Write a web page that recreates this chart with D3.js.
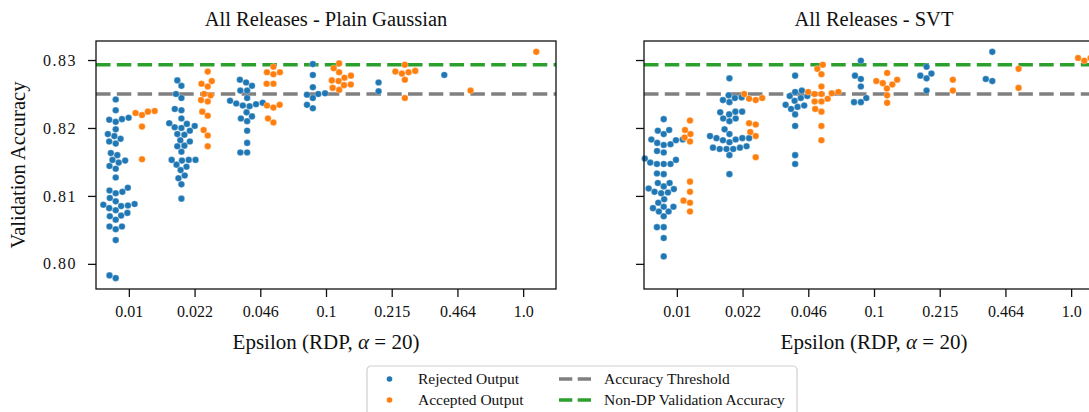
<!DOCTYPE html>
<html>
<head>
  <meta charset="utf-8"/>
  <title>All Releases swarm plots</title>
  <script src="https://d3js.org/d3.v7.min.js"></script>
  <style>
    html, body { margin: 0; padding: 0; background: #fff; overflow: hidden; }
    svg { display: block; font-family: "Liberation Serif", "Times New Roman", serif; }
    .tick text { fill: #111; font-family: "Liberation Serif", "Times New Roman", serif; }
  </style>
</head>
<body>
<svg id="chart" width="1089" height="412"></svg>
<script>
// epsilon categories (x axis)
const epsLabels = ["0.01", "0.022", "0.046", "0.1", "0.215", "0.464", "1.0"];
const yTicks = [0.80, 0.81, 0.82, 0.83];
const accuracyThreshold = 0.825;
const nonDpAccuracy = 0.8293;

// Plain Gaussian, one array per epsilon
const gaussRejected = [
  [0.8242,0.8226,0.8215,0.8212,0.8209,0.8213,0.8198,0.8191,0.8188,0.8184,0.8180,0.8177,0.8163,0.8160,0.8153,0.8152,0.8149,0.8144,0.8140,0.8127,0.8112,0.8108,0.8106,0.8104,0.8097,0.8092,0.8088,0.8086,0.8085,0.8087,0.8082,0.8079,0.8075,0.8071,0.8070,0.8065,0.8055,0.8055,0.8051,0.8035,0.7983,0.7979],
  [0.8270,0.8262,0.8250,0.8244,0.8228,0.8226,0.8214,0.8207,0.8206,0.8201,0.8200,0.8203,0.8196,0.8191,0.8190,0.8182,0.8180,0.8173,0.8174,0.8165,0.8153,0.8152,0.8153,0.8153,0.8146,0.8143,0.8138,0.8130,0.8126,0.8117,0.8096],
  [0.8271,0.8267,0.8262,0.8255,0.8255,0.8244,0.8240,0.8236,0.8233,0.8232,0.8235,0.8237,0.8223,0.8217,0.8214,0.8210,0.8196,0.8178,0.8164,0.8164],
  [0.8294,0.8278,0.8260,0.8251,0.8250,0.8249,0.8244,0.8234,0.8229],
  [0.8267,0.8254],
  [0.8278],
  []
];
const gaussAccepted = [
  [0.8222,0.8219,0.8224,0.8225,0.8202,0.8154],
  [0.8283,0.8269,0.8265,0.8261,0.8250,0.8248,0.8241,0.8239,0.8224,0.8218,0.8197,0.8189,0.8173],
  [0.8290,0.8282,0.8279,0.8282,0.8265,0.8265,0.8233,0.8230,0.8234,0.8214,0.8208],
  [0.8295,0.8288,0.8282,0.8277,0.8274,0.8270,0.8269,0.8264,0.8263,0.8259,0.8256],
  [0.8293,0.8283,0.8280,0.8282,0.8284,0.8271,0.8244],
  [0.8255],
  [0.8312]
];

// SVT
const svtRejected = [
  [0.8213,0.8196,0.8197,0.8191,0.8183,0.8178,0.8175,0.8176,0.8182,0.8183,0.8166,0.8164,0.8153,0.8147,0.8147,0.8147,0.8149,0.8155,0.8133,0.8132,0.8119,0.8114,0.8119,0.8111,0.8106,0.8104,0.8105,0.8110,0.8095,0.8090,0.8084,0.8084,0.8077,0.8070,0.8077,0.8082,0.8054,0.8054,0.8038,0.8011],
  [0.8273,0.8248,0.8245,0.8241,0.8238,0.8244,0.8223,0.8224,0.8224,0.8220,0.8214,0.8210,0.8214,0.8198,0.8191,0.8185,0.8185,0.8183,0.8179,0.8182,0.8185,0.8188,0.8171,0.8169,0.8169,0.8169,0.8171,0.8173,0.8160,0.8132],
  [0.8277,0.8255,0.8253,0.8247,0.8244,0.8247,0.8240,0.8234,0.8231,0.8228,0.8233,0.8220,0.8203,0.8160,0.8147],
  [0.8299,0.8277,0.8272,0.8261,0.8244,0.8238,0.8238],
  [0.8290,0.8280,0.8277,0.8273,0.8255],
  [0.8312,0.8272,0.8269],
  []
];
const svtAccepted = [
  [0.8211,0.8197,0.8191,0.8186,0.8180,0.8121,0.8106,0.8093,0.8090,0.8077],
  [0.8250,0.8243,0.8241,0.8244,0.8207,0.8205,0.8194,0.8188,0.8157],
  [0.8293,0.8287,0.8279,0.8261,0.8253,0.8250,0.8250,0.8251,0.8253,0.8243,0.8239,0.8239,0.8228,0.8224,0.8203,0.8182],
  [0.8281,0.8271,0.8264,0.8258,0.8266,0.8269,0.8248,0.8237],
  [0.8271,0.8255],
  [0.8287,0.8259],
  [0.8303,0.8299,0.8303]
];

const blue = "#1f77b4", orange = "#ff7f0e", gray = "#808080", green = "#2ca02c";
const serif = '"Liberation Serif", "Times New Roman", serif';

const svg = d3.select("#chart");
const plotTop = 41, plotBottom = 289, panelW = 460;
const y = d3.scaleLinear().domain([0.7963, 0.8328]).range([plotBottom, plotTop]);

const dotR = 3.3, spacing = 6.8;

// seaborn-like swarm: lowest value first, each point goes to the free spot nearest the midline
function swarm(values, cx) {
  const pts = values.map(v => ({ v, y: y(v) })).sort((a, b) => a.v - b.v);
  const placed = [];
  pts.forEach(p => {
    const nb = placed.filter(q => Math.abs(q.y - p.y) < spacing);
    const cands = [cx];
    nb.forEach(q => {
      const dx = Math.sqrt(spacing * spacing - (q.y - p.y) ** 2);
      cands.push(q.x - dx, q.x + dx);
    });
    const order = cands.map((x, i) => ({ x, i }))
      .sort((a, b) => (Math.abs(a.x - cx) - Math.abs(b.x - cx)) || (a.i - b.i));
    for (const c of order) {
      if (nb.every(q => (q.x - c.x) ** 2 + (q.y - p.y) ** 2 >= spacing * spacing - 1e-6)) {
        p.x = c.x;
        break;
      }
    }
    placed.push(p);
  });
  return placed;
}

function drawPanel(left, title, rejected, accepted, showYLabels) {
  const x = d3.scalePoint().domain(epsLabels).range([left, left + panelW]).padding(0.5);
  const dodge = x.step() * 0.2;
  const g = svg.append("g");

  // title
  g.append("text")
    .attr("x", left + panelW / 2).attr("y", 26)
    .attr("text-anchor", "middle")
    .style("font-size", "20.5px")
    .style("fill", "#111")
    .text(title);

  // reference lines
  g.append("line")
    .attr("x1", left).attr("x2", left + panelW)
    .attr("y1", y(accuracyThreshold)).attr("y2", y(accuracyThreshold))
    .attr("stroke", gray).attr("stroke-width", 3.6)
    .attr("stroke-dasharray", "14.5,6.3");
  g.append("line")
    .attr("x1", left).attr("x2", left + panelW)
    .attr("y1", y(nonDpAccuracy)).attr("y2", y(nonDpAccuracy))
    .attr("stroke", green).attr("stroke-width", 3.6)
    .attr("stroke-dasharray", "14.5,6.3");

  // swarms
  epsLabels.forEach((lab, i) => {
    [[rejected[i], -dodge, blue], [accepted[i], dodge, orange]].forEach(([vals, off, col]) => {
      g.selectAll(null)
        .data(swarm(vals, x(lab) + off))
        .enter().append("circle")
        .attr("cx", d => d.x).attr("cy", d => d.y)
        .attr("r", dotR)
        .attr("fill", col)
        .attr("stroke", "#fff").attr("stroke-width", 0.3);
    });
  });

  // axes
  const xAxis = g.append("g")
    .attr("transform", `translate(0,${plotBottom})`)
    .call(d3.axisBottom(x).tickSize(8).tickPadding(9));
  xAxis.selectAll("text").style("font-size", "16px");

  const yAxis = g.append("g")
    .attr("transform", `translate(${left},0)`)
    .call(d3.axisLeft(y).tickValues(yTicks).tickSize(8).tickPadding(11).tickFormat(d3.format(".2f")));
  yAxis.selectAll("text")
    .style("font-size", "16px")
    .style("letter-spacing", "1.5px")
    .style("display", showYLabels ? null : "none");

  [xAxis, yAxis].forEach(a => {
    a.attr("font-family", serif);
    a.selectAll("text").style("font-family", serif);
    a.select(".domain").remove();
    a.selectAll("line").attr("stroke", "#111").attr("stroke-width", 1.3);
  });

  // frame
  g.append("rect")
    .attr("x", left).attr("y", plotTop)
    .attr("width", panelW).attr("height", plotBottom - plotTop)
    .attr("fill", "none").attr("stroke", "#111").attr("stroke-width", 1.3);

  // x label
  const xl = g.append("text")
    .attr("x", left + panelW / 2).attr("y", 349)
    .attr("text-anchor", "middle")
    .style("font-size", "21px")
    .style("fill", "#111");
  xl.append("tspan").text("Epsilon (RDP, ");
  xl.append("tspan").style("font-style", "italic").text("α");
  xl.append("tspan").text(" = 20)");
}

drawPanel(96, "All Releases - Plain Gaussian", gaussRejected, gaussAccepted, true);
drawPanel(644, "All Releases - SVT", svtRejected, svtAccepted, false);

// y label
svg.append("text")
  .attr("transform", `translate(25,${(plotTop + plotBottom) / 2}) rotate(-90)`)
  .attr("text-anchor", "middle")
  .style("font-size", "20.5px")
  .style("fill", "#111")
  .text("Validation Accuracy");

// legend
const legendItems = [
  { label: "Rejected Output", type: "dot", color: blue, col: 0, row: 0 },
  { label: "Accepted Output", type: "dot", color: orange, col: 0, row: 1 },
  { label: "Accuracy Threshold", type: "line", color: gray, col: 1, row: 0 },
  { label: "Non-DP Validation Accuracy", type: "line", color: green, col: 1, row: 1 }
];
const legend = svg.append("g").attr("transform", "translate(367,366)");
legend.append("rect")
  .attr("width", 430).attr("height", 60).attr("rx", 4)
  .attr("fill", "#fff").attr("stroke", "#cfcfcf").attr("stroke-width", 1.2);
const colX = [0, 192];
const item = legend.selectAll(".li")
  .data(legendItems)
  .enter().append("g")
  .attr("transform", d => `translate(${colX[d.col]},${13 + d.row * 21})`);
item.filter(d => d.type === "dot").append("circle")
  .attr("cx", 22.5).attr("cy", 0).attr("r", 2.8).attr("fill", d => d.color);
item.filter(d => d.type === "line").append("line")
  .attr("x1", 0).attr("x2", 32).attr("y1", 0).attr("y2", 0)
  .attr("stroke", d => d.color).attr("stroke-width", 3.6)
  .attr("stroke-dasharray", "13.3,5.4");
item.append("text")
  .attr("x", d => d.col === 0 ? 51 : 45)
  .attr("y", 5)
  .style("font-size", "15.5px")
  .style("fill", "#111")
  .text(d => d.label);
</script>
</body>
</html>
